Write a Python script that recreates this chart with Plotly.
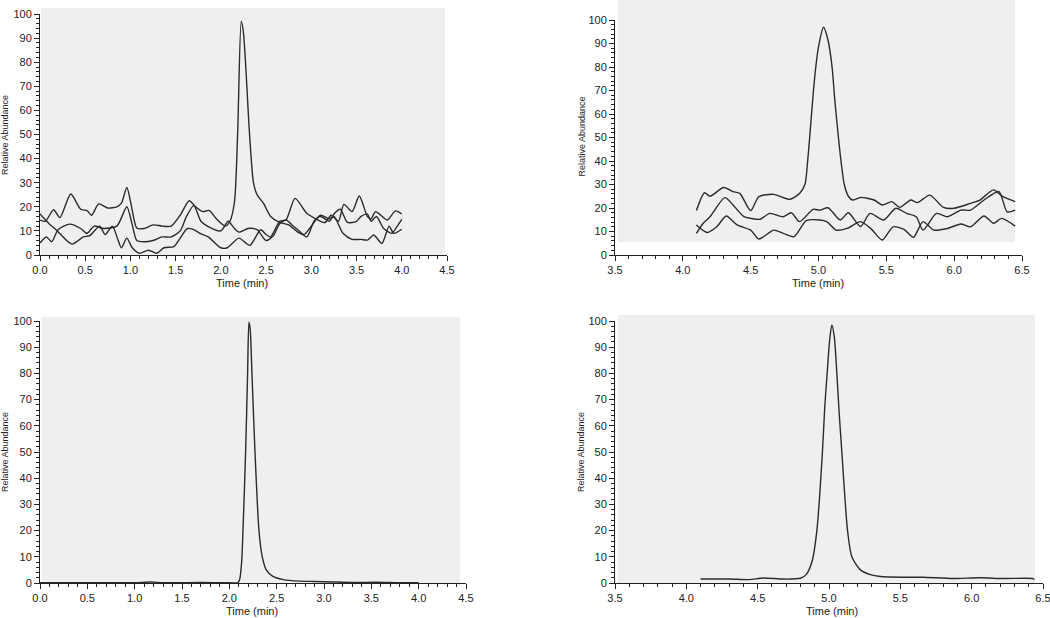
import plotly.graph_objects as go

# ---- данные: верхний левый график (три канала, пик ~2.2 мин)
t1a = [0.00, 0.06, 0.15, 0.22, 0.34, 0.45, 0.52, 0.57, 0.65, 0.75, 0.85, 0.90, 0.96, 1.01, 1.07, 1.15,
       1.25, 1.35, 1.45, 1.55, 1.65, 1.72, 1.80, 1.87, 1.95, 2.05, 2.10, 2.15, 2.185, 2.225, 2.25,
       2.317, 2.36, 2.40, 2.47, 2.55, 2.65, 2.75, 2.85, 2.92, 3.00, 3.10, 3.20, 3.25, 3.35, 3.45,
       3.55, 3.62, 3.69, 3.78, 3.86, 3.91, 4.00]
a1 = [14.5, 14.0, 18.8, 15.5, 25.3, 19.0, 18.4, 16.5, 21.2, 19.5, 20.0, 21.5, 28.0, 20.5, 11.2, 11.0,
      12.5, 12.0, 12.0, 16.5, 22.5, 20.0, 18.0, 18.5, 15.0, 12.0, 14.0, 22.0, 50.0, 97.0, 92.0,
      50.0, 30.0, 25.0, 21.5, 16.0, 13.5, 12.5, 9.5, 8.5, 12.0, 16.5, 15.0, 16.0, 9.0, 6.5,
      6.5, 6.2, 8.3, 4.8, 12.0, 9.0, 10.7]

t1b = [0.00, 0.07, 0.13, 0.20, 0.33, 0.45, 0.52, 0.60, 0.70, 0.85, 0.96, 1.02, 1.07, 1.15, 1.25, 1.35,
       1.45, 1.55, 1.62, 1.70, 1.78, 1.85, 2.00, 2.08, 2.15, 2.20, 2.30, 2.40, 2.50, 2.58, 2.65, 2.72,
       2.80, 2.85, 2.95, 3.03, 3.10, 3.20, 3.25, 3.32, 3.40, 3.50, 3.55, 3.62, 3.66, 3.72, 3.80, 3.89,
       3.95, 4.00]
b1 = [5.0, 7.5, 5.5, 10.5, 12.8, 11.0, 9.0, 12.0, 11.0, 12.0, 20.0, 12.5, 6.0, 5.5, 6.0, 7.5,
      7.5, 10.0, 16.0, 20.5, 14.0, 12.0, 10.0, 14.0, 11.0, 9.5, 11.0, 10.5, 6.0, 8.0, 13.0, 14.5,
      12.0, 10.5, 7.5, 14.0, 16.0, 14.0, 17.0, 19.0, 13.5, 14.0, 16.0, 17.0, 14.0, 16.0, 11.0, 9.0,
      12.0, 14.8]

t1c = [0.00, 0.10, 0.18, 0.31, 0.36, 0.48, 0.55, 0.66, 0.72, 0.80, 0.86, 0.90, 0.96, 1.02, 1.10, 1.20,
       1.29, 1.37, 1.48, 1.55, 1.63, 1.70, 1.77, 1.86, 2.00, 2.07, 2.20, 2.32, 2.44, 2.50, 2.55, 2.65,
       2.72, 2.82, 2.95, 3.05, 3.15, 3.22, 3.30, 3.36, 3.45, 3.53, 3.62, 3.66, 3.71, 3.84, 3.93, 4.00]
c1 = [17.0, 13.0, 10.4, 5.5, 4.5, 7.5, 8.0, 12.0, 8.5, 12.0, 6.5, 3.0, 7.0, 3.0, 0.7, 2.0,
      0.7, 3.0, 3.5, 7.0, 11.0, 10.5, 9.0, 7.5, 3.0, 3.0, 7.0, 4.0, 10.5, 8.5, 7.5, 14.0,
      14.5, 23.5, 17.3, 15.0, 13.5, 16.5, 14.0, 21.0, 18.0, 24.5, 16.0, 15.0, 18.0, 14.5, 18.3, 17.0]

# ---- верхний правый график (пик ~5.04 мин)
t2a = [4.10, 4.16, 4.20, 4.30, 4.37, 4.42, 4.50, 4.56, 4.67, 4.79, 4.86, 4.90, 4.92, 4.935, 4.96,
       4.98, 5.00, 5.037, 5.07, 5.10, 5.12, 5.147, 5.17, 5.19, 5.22, 5.25, 5.31, 5.41, 5.47, 5.54,
       5.60, 5.68, 5.73, 5.82, 5.92, 6.00, 6.12, 6.19, 6.29, 6.36, 6.45]
a2 = [18.9, 26.5, 25.0, 28.7, 27.0, 26.2, 18.9, 24.8, 25.8, 23.7, 26.2, 30.0, 40.0, 50.0, 68.0,
      80.0, 88.6, 96.9, 91.5, 80.0, 66.0, 50.0, 38.0, 30.0, 25.0, 23.4, 24.5, 23.4, 21.3, 22.7,
      20.3, 23.4, 22.3, 25.5, 20.3, 19.9, 22.0, 23.4, 27.7, 24.8, 22.7]

t2b = [4.10, 4.15, 4.20, 4.31, 4.37, 4.45, 4.50, 4.57, 4.64, 4.74, 4.80, 4.86, 4.96, 5.01, 5.07, 5.16,
       5.22, 5.31, 5.38, 5.48, 5.57, 5.65, 5.72, 5.77, 5.87, 5.95, 6.05, 6.12, 6.22, 6.33, 6.39, 6.45]
b2 = [9.2, 13.5, 16.3, 24.4, 21.3, 16.3, 15.6, 15.2, 17.7, 16.3, 18.0, 14.2, 19.4, 19.1, 20.1, 14.9,
      18.0, 12.1, 17.7, 14.9, 19.9, 17.7, 16.3, 10.6, 17.7, 16.3, 19.1, 19.1, 23.4, 27.0, 18.4, 19.1]

t2c = [4.10, 4.18, 4.25, 4.32, 4.40, 4.50, 4.56, 4.67, 4.74, 4.82, 4.91, 5.01, 5.06, 5.13, 5.21, 5.31,
       5.39, 5.47, 5.55, 5.63, 5.70, 5.77, 5.85, 5.95, 6.05, 6.12, 6.22, 6.29, 6.35, 6.45]
c2 = [12.8, 9.6, 12.0, 16.6, 12.8, 10.6, 6.8, 10.6, 9.2, 7.8, 14.6, 14.9, 14.2, 10.6, 11.3, 14.2,
      11.0, 6.4, 12.0, 10.9, 7.5, 14.2, 10.6, 11.3, 13.2, 12.0, 16.6, 13.5, 15.6, 12.3]

# ---- нижний левый график (один канал)
t3 = [0.00, 0.50, 1.00, 1.17, 1.30, 1.70, 2.00, 2.09, 2.11, 2.13, 2.144, 2.172, 2.193, 2.207, 2.22,
      2.239, 2.271, 2.313, 2.348, 2.39, 2.46, 2.57, 2.74, 2.90, 3.09, 3.30, 3.55, 3.80, 4.00]
y3 = [0.1, 0.1, 0.1, 0.4, 0.1, 0.2, 0.1, 0.1, 1.5, 8.0, 20.0, 50.0, 80.0, 99.5, 97.0,
      80.0, 50.0, 20.0, 10.0, 5.0, 2.5, 1.3, 0.7, 0.6, 0.4, 0.2, 0.3, 0.1, 0.1]

# ---- нижний правый график
t4 = [4.10, 4.30, 4.44, 4.54, 4.68, 4.80, 4.84, 4.88, 4.915, 4.954, 4.97, 4.987, 5.005, 5.02, 5.037,
      5.055, 5.07, 5.09, 5.13, 5.16, 5.22, 5.29, 5.36, 5.52, 5.66, 5.87, 6.06, 6.22, 6.43, 6.44]
y4 = [1.5, 1.5, 1.3, 1.9, 1.5, 1.8, 3.2, 8.0, 20.0, 50.0, 67.0, 80.0, 93.0, 98.5, 94.0,
      80.0, 66.0, 50.0, 20.0, 10.0, 5.0, 3.2, 2.5, 2.2, 2.2, 1.7, 2.0, 1.7, 1.7, 1.3]

W, H = 1050, 618
LINE = '#2b2b2b'
GRAY = '#efefef'
TXT = '#222222'


def px(v):
    return v / W


def py(v):
    return 1 - v / H


fig = go.Figure()

panels = [
    ('x', 'y', [(t1a, a1), (t1b, b1), (t1c, c1)]),
    ('x2', 'y2', [(t2a, a2), (t2b, b2), (t2c, c2)]),
    ('x3', 'y3', [(t3, y3)]),
    ('x4', 'y4', [(t4, y4)]),
]
for xa, ya, series in panels:
    for xs, ys in series:
        fig.add_trace(go.Scatter(
            x=xs, y=ys, mode='lines', xaxis=xa, yaxis=ya,
            line=dict(color=LINE, width=1.4, shape='spline', smoothing=0.7),
            showlegend=False, hoverinfo='skip'
        ))

common = dict(showline=True, linecolor=TXT, linewidth=1, ticks='outside', ticklen=5,
              tickwidth=1, tickcolor=TXT, showgrid=False, zeroline=False, automargin=False,
              ticklabeloverflow='allow', tickfont=dict(size=11, color=TXT))
xcommon = dict(common, dtick=0.5, tickformat='.1f',
               minor=dict(dtick=0.1, ticks='outside', ticklen=3, tickcolor=TXT))
ycommon = dict(common, dtick=10, range=[0, 100],
               minor=dict(dtick=2, ticks='outside', ticklen=3, tickcolor=TXT))

fig.update_layout(
    template='none',
    width=W, height=H,
    margin=dict(l=0, r=0, t=0, b=0, autoexpand=False),
    paper_bgcolor='white',
    plot_bgcolor='rgba(0,0,0,0)',
    font=dict(family='Liberation Sans, Arial, sans-serif', size=11, color=TXT),
    showlegend=False,
    xaxis=dict(xcommon, domain=[px(40), px(447)], anchor='y', range=[0, 4.5]),
    yaxis=dict(ycommon, domain=[py(255), py(14)], anchor='x'),
    xaxis2=dict(xcommon, domain=[px(615), px(1022)], anchor='y2', range=[3.5, 6.5]),
    yaxis2=dict(ycommon, domain=[py(255), py(20)], anchor='x2'),
    xaxis3=dict(xcommon, domain=[px(40), px(466)], anchor='y3', range=[0, 4.5]),
    yaxis3=dict(ycommon, domain=[py(583), py(321)], anchor='x3'),
    xaxis4=dict(xcommon, domain=[px(615), px(1043)], anchor='y4', range=[3.5, 6.5]),
    yaxis4=dict(ycommon, domain=[py(583), py(321)], anchor='x4'),
)

# серые подложки (как в окне Xcalibur)
boxes = [(41, 445, 255, 8), (618, 1015, 242, 0), (41.5, 460, 583, 317), (618, 1035, 583, 315)]
for x0, x1, y0, y1 in boxes:
    fig.add_shape(type='rect', xref='paper', yref='paper',
                  x0=px(x0), x1=px(x1), y0=py(y0), y1=py(y1),
                  fillcolor=GRAY, line=dict(width=0), layer='below')

# подписи осей
for x, y in [(5, 135), (581.5, 137), (5, 452), (581, 452)]:
    fig.add_annotation(text='Relative Abundance', x=px(x), y=py(y), xref='paper', yref='paper',
                       xanchor='center', yanchor='middle',
                       textangle=-90, showarrow=False, font=dict(size=9, color=TXT))
for x, y in [(242, 283), (818, 283), (252, 611), (832, 611)]:
    fig.add_annotation(text='Time (min)', x=px(x), y=py(y), xref='paper', yref='paper',
                       xanchor='center', yanchor='middle',
                       showarrow=False, font=dict(size=11, color=TXT))

# убираем отступ body, чтобы график стоял в углу окна
fig.write_html("out.html", config={'displayModeBar': False},
               post_script="document.body.style.margin='0';")
